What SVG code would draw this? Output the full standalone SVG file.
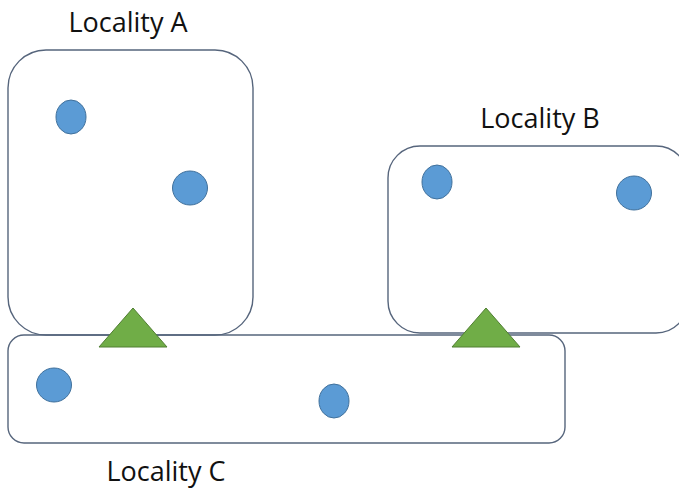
<svg xmlns="http://www.w3.org/2000/svg" width="679" height="488" viewBox="0 0 679 488">
<style>
.box{fill:none;stroke:#56657c;stroke-width:1.4}
.pt{fill:#5b9bd5;stroke:#41719c;stroke-width:1}
.hub{fill:#70ad47;stroke:#507e32;stroke-width:1}
.lbl{font-family:"Open Sans","Liberation Sans",sans-serif;font-size:27px;fill:#111;text-anchor:middle}
</style>
<rect width="679" height="488" fill="#fff"/>
<g id="localityA">
<rect class="box" x="8" y="50" width="245" height="285" rx="38" ry="38"/>
<text class="lbl" x="128" y="32">Locality A</text>
<ellipse class="pt" cx="71" cy="117" rx="15" ry="17"/>
<ellipse class="pt" cx="190" cy="188" rx="17.5" ry="17"/>
</g>
<g id="localityB">
<rect class="box" x="388" y="146" width="300" height="187" rx="32" ry="32"/>
<text class="lbl" x="540" y="128">Locality B</text>
<ellipse class="pt" cx="437" cy="182" rx="15" ry="17"/>
<ellipse class="pt" cx="634" cy="193" rx="17.5" ry="17"/>
</g>
<g id="localityC">
<rect class="box" x="8" y="335" width="557" height="108" rx="16" ry="16"/>
<text class="lbl" x="166" y="481">Locality C</text>
<ellipse class="pt" cx="54" cy="385" rx="17.5" ry="17"/>
<ellipse class="pt" cx="334" cy="401" rx="15" ry="17"/>
</g>
<g id="gatewayAC">
<polygon class="hub" points="133,308 167,347 99,347"/>
</g>
<g id="gatewayBC">
<polygon class="hub" points="486,308 520,347 452,347"/>
</g>
<g id="connectors"/>
</svg>
